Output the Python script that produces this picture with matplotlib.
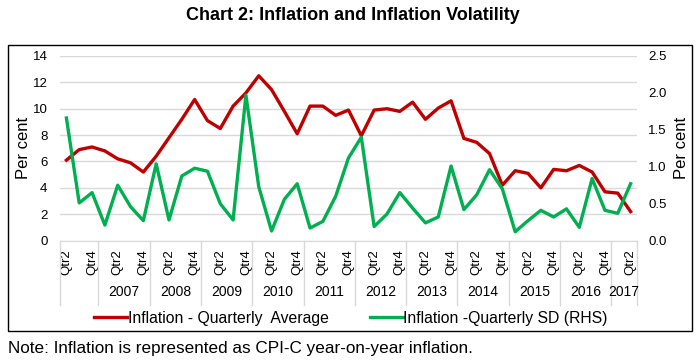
import matplotlib
matplotlib.use("Agg")
import matplotlib.pyplot as plt
import matplotlib.transforms as mtransforms
from matplotlib.patches import Rectangle

plt.rcParams['font.family'] = ['Liberation Sans', 'DejaVu Sans']

# ---------------------------
# Data: 2006 Qtr2 .. 2017 Qtr2
# ---------------------------
quarters = ["Qtr2", "Qtr3", "Qtr4"] + ["Qtr1", "Qtr2", "Qtr3", "Qtr4"] * 10 + ["Qtr1", "Qtr2"]
years = ["", "2007", "2008", "2009", "2010", "2011", "2012", "2013", "2014", "2015", "2016", "2017"]
year_sizes = [3] + [4] * 10 + [2]

inflation_avg = [6.1, 6.9, 7.1, 6.8, 6.2, 5.9, 5.2, 6.4, 7.8, 9.2,
                 10.7, 9.1, 8.5, 10.2, 11.2, 12.5, 11.45, 9.8, 8.1, 10.2,
                 10.2, 9.5, 9.9, 7.95, 9.9, 10.0, 9.8, 10.5, 9.2, 10.05,
                 10.6, 7.75, 7.45, 6.6, 4.2, 5.3, 5.1, 4.0, 5.4, 5.3,
                 5.7, 5.2, 3.7, 3.6, 2.2]

inflation_sd = [1.66, 0.51, 0.65, 0.21, 0.75, 0.46, 0.27, 1.04, 0.28, 0.875,
                0.98, 0.94, 0.5, 0.28, 1.97, 0.73, 0.13, 0.56, 0.77, 0.17,
                0.26, 0.6, 1.12, 1.4, 0.19, 0.36, 0.65, 0.44, 0.24, 0.32,
                1.01, 0.42, 0.62, 0.96, 0.70, 0.12, 0.27, 0.41, 0.32, 0.43,
                0.18, 0.84, 0.41, 0.37, 0.77]

RED = "#C00000"
GREEN = "#00B050"
GRID = "#D9D9D9"

W, H = 700, 363
fig = plt.figure(figsize=(W / 100, H / 100), dpi=100)

# outer chart border
fig.patches.append(Rectangle((8 / W, 1 - 331 / H), 684 / W, 286 / H,
                             transform=fig.transFigure, fill=False,
                             edgecolor="black", linewidth=1.0))

ax = fig.add_axes([60 / W, 1 - 240.6 / H, 577 / W, 184.6 / H])
ax2 = ax.twinx()

x = list(range(len(quarters)))
ax.plot(x, inflation_avg, color=RED, linewidth=2.4, label="Inflation - Quarterly  Average")
ax2.plot(x, inflation_sd, color=GREEN, linewidth=2.4, label="Inflation -Quarterly SD (RHS)")

ax.set_xlim(-0.5, len(quarters) - 0.5)
ax.set_ylim(0, 14)
ax.set_yticks(range(0, 15, 2))
ax2.set_ylim(0, 2.5)
ax2.set_yticks([0, 0.5, 1.0, 1.5, 2.0, 2.5])
ax2.set_yticklabels([f"{v:.1f}" for v in [0, 0.5, 1.0, 1.5, 2.0, 2.5]])

ax.grid(axis="y", color=GRID, linewidth=1.0)
ax.set_axisbelow(True)
for a in (ax, ax2):
    for s in a.spines.values():
        s.set_visible(False)
    a.tick_params(length=0, labelsize=9.5)
ax.spines["bottom"].set_visible(True)
ax.spines["bottom"].set_color(GRID)

ax.tick_params(axis="y", pad=9)
ax2.tick_params(axis="y", pad=8)
ax.set_ylabel("Per cent", fontsize=12, labelpad=1)
ax2.set_ylabel("Per cent", fontsize=12, labelpad=5)

# inner level: every other quarter label
ticks = x[::2]
ax.set_xticks(ticks)
ax.set_xticklabels([quarters[i] for i in ticks], rotation=90, fontsize=9.5)
ax.tick_params(axis="x", pad=6)

# outer level: years with separator lines
trans = mtransforms.blended_transform_factory(ax.transData, ax.transAxes)
sep_bottom = -(305 - 240.6) / 184.6
year_y = -(292.5 - 240.6) / 184.6
start = -0.5
ax.plot([start, start], [0, sep_bottom], transform=trans, color=GRID, linewidth=1.0, clip_on=False)
for name, size in zip(years, year_sizes):
    end = start + size
    ax.plot([end, end], [0, sep_bottom], transform=trans, color=GRID, linewidth=1.0, clip_on=False)
    ax.text((start + end) / 2, year_y, name, transform=trans, ha="center", va="center", fontsize=10)
    start = end

fig.text(353 / W, 1 - 15 / H, "Chart 2: Inflation and Inflation Volatility",
         ha="center", va="center", fontsize=13, fontweight="bold")

h1, l1 = ax.get_legend_handles_labels()
h2, l2 = ax2.get_legend_handles_labels()
fig.legend(h1 + h2, l1 + l2, loc="center", bbox_to_anchor=(351 / W, 1 - 318 / H),
           ncol=2, frameon=False, fontsize=11.3, handlelength=2.1,
           handletextpad=0.05, columnspacing=2.6, borderpad=0, borderaxespad=0)

fig.text(8 / W, 1 - 348 / H, "Note: Inflation is represented as CPI-C year-on-year inflation.",
         ha="left", va="center", fontsize=12.3)

fig.savefig("out.png", dpi=100)
